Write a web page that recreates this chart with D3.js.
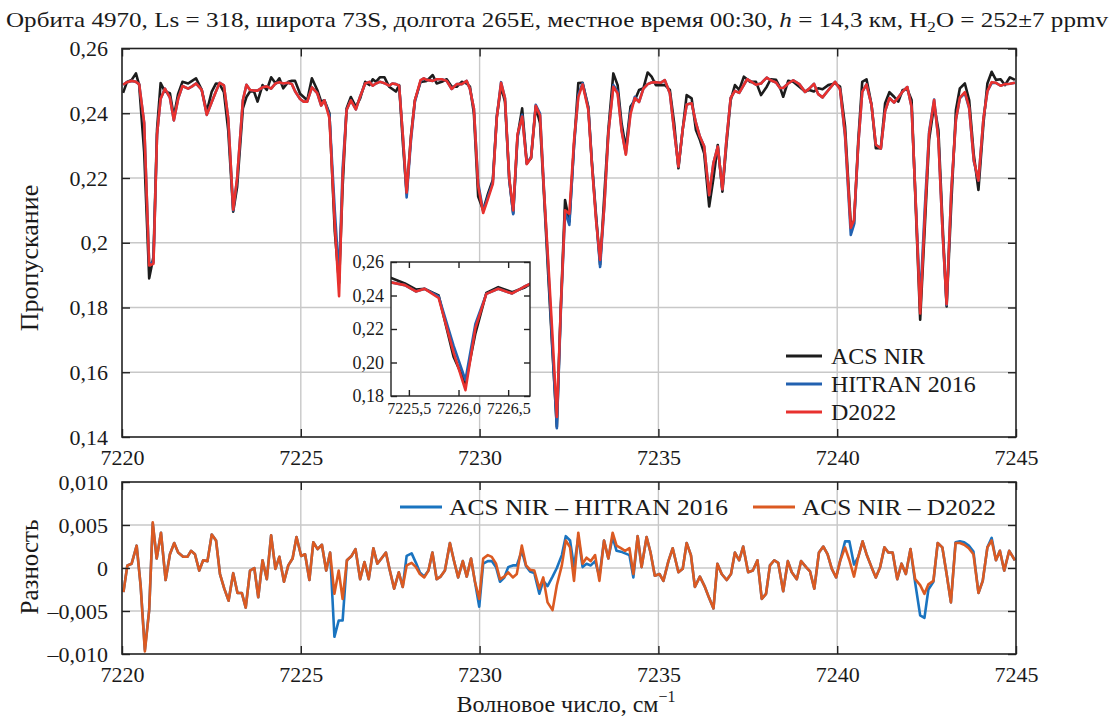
<html>
<script src='https://d3js.org/d3.v7.min.js'></script>
<style>
  body { margin: 0; background: white; }
  text { font-family: "Liberation Serif", "Times New Roman", serif; fill: #1a1a1a; }
  .grid line { stroke: #c8c8c8; stroke-width: 1.4; }
  .ax line { stroke: #222; stroke-width: 1.4; }
  .ax path { display: none; }
</style>
<body>
<div id="chart"></div>
<script>
// top panel: wavenumber (cm-1) and transmittance
const wnTop = [7220.03,7220.14,7220.27,7220.39,7220.48,7220.62,7220.76,7220.88,7220.98,7221.08,7221.20,7221.34,7221.45,7221.57,7221.69,7221.85,7221.96,7222.07,7222.23,7222.37,7222.51,7222.63,7222.73,7222.85,7222.97,7223.11,7223.22,7223.38,7223.48,7223.58,7223.69,7223.79,7223.93,7224.05,7224.17,7224.30,7224.40,7224.51,7224.65,7224.75,7224.84,7224.98,7225.08,7225.18,7225.31,7225.46,7225.57,7225.66,7225.80,7225.95,7226.07,7226.17,7226.28,7226.40,7226.54,7226.66,7226.80,7226.92,7227.01,7227.10,7227.21,7227.34,7227.47,7227.56,7227.66,7227.75,7227.86,7227.96,7228.08,7228.19,7228.35,7228.44,7228.52,7228.69,7228.80,7228.94,7229.08,7229.22,7229.36,7229.50,7229.64,7229.73,7229.84,7229.96,7230.10,7230.24,7230.37,7230.48,7230.60,7230.71,7230.83,7230.94,7231.06,7231.19,7231.32,7231.44,7231.57,7231.69,7231.80,7231.92,7232.04,7232.16,7232.27,7232.39,7232.51,7232.64,7232.76,7232.88,7233.04,7233.14,7233.26,7233.37,7233.49,7233.60,7233.74,7233.86,7233.97,7234.09,7234.22,7234.34,7234.46,7234.58,7234.70,7234.81,7234.93,7235.06,7235.18,7235.32,7235.44,7235.56,7235.68,7235.79,7235.93,7236.05,7236.16,7236.28,7236.42,7236.54,7236.66,7236.79,7236.90,7237.02,7237.14,7237.26,7237.39,7237.48,7237.56,7237.73,7237.87,7238.03,7238.14,7238.29,7238.40,7238.49,7238.63,7238.77,7238.94,7239.10,7239.22,7239.35,7239.47,7239.59,7239.75,7239.94,7240.08,7240.22,7240.38,7240.47,7240.59,7240.70,7240.82,7240.96,7241.08,7241.22,7241.34,7241.46,7241.59,7241.71,7241.83,7241.96,7242.08,7242.20,7242.32,7242.45,7242.57,7242.71,7242.83,7242.95,7243.06,7243.19,7243.32,7243.43,7243.57,7243.69,7243.82,7243.95,7244.09,7244.20,7244.32,7244.44,7244.57,7244.69,7244.83,7244.97];
const acs = [.2463,.2497,.2503,.2523,.2487,.2280,.1890,.1957,.2350,.2493,.2467,.2462,.2389,.2460,.2497,.2492,.2500,.2508,.2472,.2405,.2467,.2492,.2490,.2465,.2348,.2096,.2173,.2415,.2450,.2467,.2468,.2436,.2487,.2472,.2511,.2492,.2508,.2477,.2497,.2500,.2500,.2460,.2450,.2440,.2508,.2472,.2436,.2440,.2400,.2035,.1876,.2174,.2415,.2450,.2420,.2446,.2497,.2487,.2505,.2497,.2511,.2511,.2482,.2475,.2467,.2487,.2300,.2153,.2330,.2440,.2497,.2498,.2500,.2518,.2492,.2497,.2505,.2482,.2482,.2497,.2492,.2482,.2400,.2143,.2101,.2153,.2194,.2389,.2482,.2436,.2194,.2091,.2328,.2415,.2246,.2261,.2420,.2369,.2150,.1900,.1660,.1432,.1800,.2132,.2065,.2300,.2493,.2494,.2420,.2250,.2080,.1932,.2150,.2348,.2523,.2487,.2369,.2292,.2420,.2440,.2472,.2477,.2526,.2513,.2487,.2487,.2487,.2472,.2370,.2230,.2350,.2456,.2446,.2348,.2318,.2276,.2112,.2200,.2302,.2158,.2300,.2440,.2487,.2472,.2513,.2505,.2497,.2497,.2456,.2482,.2505,.2503,.2480,.2451,.2500,.2497,.2482,.2467,.2472,.2467,.2477,.2474,.2487,.2492,.2482,.2359,.2055,.2060,.2318,.2497,.2505,.2426,.2292,.2292,.2431,.2465,.2451,.2436,.2472,.2474,.2441,.2100,.1762,.2050,.2318,.2426,.2348,.2050,.1803,.2120,.2410,.2477,.2492,.2441,.2271,.2163,.2369,.2492,.2528,.2503,.2505,.2487,.2511,.2503];
const hitran = [.2488,.2496,.2500,.2497,.2490,.2370,.1935,.1940,.2335,.2445,.2476,.2448,.2378,.2445,.2484,.2476,.2483,.2492,.2472,.2395,.2435,.2468,.2494,.2486,.2385,.2100,.2198,.2440,.2488,.2472,.2470,.2470,.2480,.2483,.2476,.2493,.2496,.2492,.2494,.2490,.2468,.2444,.2436,.2436,.2480,.2462,.2424,.2440,.2395,.2100,.1895,.2230,.2410,.2440,.2412,.2452,.2492,.2497,.2485,.2492,.2497,.2493,.2485,.2492,.2490,.2485,.2322,.2140,.2315,.2435,.2500,.2508,.2503,.2500,.2505,.2505,.2500,.2475,.2490,.2490,.2500,.2475,.2415,.2185,.2097,.2145,.2187,.2388,.2496,.2447,.2193,.2088,.2325,.2395,.2244,.2265,.2426,.2399,.2165,.1921,.1670,.1427,.1785,.2095,.2055,.2299,.2457,.2493,.2415,.2247,.2072,.1925,.2118,.2337,.2487,.2467,.2350,.2275,.2405,.2451,.2435,.2476,.2490,.2495,.2496,.2494,.2502,.2462,.2347,.2235,.2351,.2427,.2431,.2370,.2328,.2298,.2147,.2247,.2297,.2165,.2314,.2447,.2469,.2463,.2488,.2505,.2500,.2488,.2492,.2510,.2502,.2495,.2478,.2478,.2492,.2502,.2490,.2466,.2476,.2491,.2459,.2449,.2471,.2497,.2474,.2328,.2024,.2056,.2305,.2466,.2489,.2425,.2303,.2291,.2407,.2447,.2433,.2449,.2467,.2481,.2419,.2117,.1817,.2108,.2343,.2442,.2319,.2026,.1808,.2160,.2380,.2446,.2462,.2415,.2252,.2192,.2384,.2468,.2493,.2494,.2485,.2490,.2491,.2494];
const d2022 = [.2488,.2496,.2500,.2497,.2490,.2370,.1930,.1935,.2335,.2445,.2476,.2448,.2378,.2445,.2484,.2476,.2483,.2492,.2472,.2395,.2435,.2468,.2494,.2486,.2385,.2102,.2200,.2440,.2488,.2472,.2470,.2470,.2480,.2483,.2476,.2493,.2496,.2492,.2494,.2490,.2468,.2444,.2436,.2436,.2480,.2462,.2424,.2440,.2385,.2060,.1835,.2205,.2410,.2440,.2412,.2452,.2492,.2497,.2485,.2492,.2497,.2493,.2485,.2492,.2490,.2485,.2322,.2155,.2325,.2440,.2502,.2508,.2503,.2500,.2505,.2505,.2500,.2475,.2490,.2490,.2500,.2475,.2415,.2175,.2092,.2138,.2182,.2385,.2494,.2446,.2199,.2100,.2335,.2390,.2243,.2263,.2423,.2393,.2161,.1940,.1709,.1462,.1797,.2100,.2090,.2315,.2450,.2489,.2410,.2242,.2065,.1947,.2118,.2337,.2482,.2461,.2346,.2272,.2397,.2447,.2435,.2476,.2490,.2495,.2496,.2494,.2502,.2462,.2347,.2235,.2351,.2427,.2431,.2370,.2328,.2298,.2147,.2247,.2297,.2165,.2314,.2447,.2469,.2463,.2488,.2505,.2500,.2488,.2492,.2510,.2502,.2495,.2478,.2478,.2492,.2502,.2490,.2466,.2476,.2491,.2459,.2449,.2471,.2497,.2474,.2335,.2046,.2070,.2305,.2466,.2489,.2425,.2303,.2291,.2407,.2447,.2433,.2449,.2467,.2481,.2419,.2113,.1782,.2080,.2337,.2441,.2319,.2026,.1810,.2160,.2381,.2448,.2465,.2418,.2255,.2192,.2384,.2468,.2496,.2494,.2485,.2490,.2491,.2494];

// bottom panel: residuals
const wnRes = [7220.04,7220.15,7220.27,7220.41,7220.52,7220.64,7220.76,7220.86,7220.97,7221.09,7221.22,7221.34,7221.46,7221.57,7221.71,7221.83,7221.93,7222.04,7222.16,7222.27,7222.39,7222.51,7222.63,7222.74,7222.86,7222.98,7223.11,7223.23,7223.35,7223.46,7223.58,7223.70,7223.81,7223.93,7224.05,7224.17,7224.29,7224.40,7224.53,7224.65,7224.77,7224.88,7225.01,7225.12,7225.24,7225.35,7225.47,7225.59,7225.71,7225.82,7225.94,7226.06,7226.17,7226.29,7226.42,7226.53,7226.66,7226.78,7226.90,7227.03,7227.14,7227.27,7227.38,7227.49,7227.61,7227.74,7227.85,7227.96,7228.10,7228.22,7228.33,7228.45,7228.57,7228.68,7228.80,7228.91,7229.03,7229.17,7229.28,7229.40,7229.53,7229.64,7229.76,7229.87,7229.99,7230.10,7230.23,7230.34,7230.46,7230.57,7230.69,7230.80,7230.93,7231.04,7231.18,7231.30,7231.41,7231.53,7231.67,7231.78,7231.90,7232.04,7232.16,7232.30,7232.41,7232.53,7232.64,7232.76,7232.88,7232.99,7233.11,7233.23,7233.35,7233.48,7233.60,7233.72,7233.83,7233.95,7234.07,7234.19,7234.30,7234.42,7234.53,7234.67,7234.78,7234.90,7235.03,7235.14,7235.28,7235.40,7235.56,7235.68,7235.79,7235.91,7236.02,7236.16,7236.30,7236.42,7236.54,7236.65,7236.77,7236.91,7237.03,7237.14,7237.26,7237.37,7237.51,7237.64,7237.77,7237.89,7238.01,7238.12,7238.24,7238.35,7238.49,7238.62,7238.73,7238.87,7238.99,7239.13,7239.24,7239.36,7239.49,7239.61,7239.73,7239.85,7239.97,7240.08,7240.22,7240.34,7240.47,7240.59,7240.71,7240.82,7240.96,7241.08,7241.20,7241.32,7241.43,7241.55,7241.68,7241.80,7241.92,7242.05,7242.18,7242.32,7242.44,7242.55,7242.69,7242.81,7242.94,7243.06,7243.18,7243.31,7243.43,7243.55,7243.68,7243.81,7243.95,7244.07,7244.20,7244.32,7244.44,7244.55,7244.67,7244.81,7244.97];
const resHitran = [-.0028,.0003,.0005,.0026,-.0020,-.0095,-.0049,.0052,.0011,.0041,-.0014,.0016,.0029,.0018,.0013,.0013,.0020,.0016,-.0003,.0009,.0008,.0039,.0032,-.0007,-.0024,-.0038,-.0006,-.0029,-.0029,-.0046,-.0003,.0000,-.0034,.0009,-.0013,.0038,-.0001,.0013,-.0016,.0003,.0011,.0036,.0014,.0016,-.0014,.0030,.0022,.0027,-.0003,.0018,-.0080,-.0061,-.0061,.0009,.0014,.0022,-.0013,.0007,-.0013,.0023,.0005,.0012,.0018,-.0003,-.0024,-.0005,-.0022,.0014,.0017,.0006,-.0005,-.0010,-.0003,.0018,-.0013,-.0010,-.0003,.0029,.0009,-.0011,.0008,-.0010,.0011,-.0016,-.0045,.0005,.0008,.0008,.0001,-.0016,-.0011,.0001,.0003,.0003,.0020,.0002,-.0004,-.0006,-.0030,-.0015,-.0021,-.0010,.0000,.0015,.0037,.0032,.0001,.0036,.0001,.0005,.0003,.0008,-.0010,.0032,.0011,.0036,.0020,.0019,.0017,.0015,-.0011,.0037,.0001,.0036,.0018,-.0009,-.0007,-.0015,.0008,.0023,-.0005,-.0001,.0029,.0015,-.0022,-.0010,-.0022,-.0035,-.0047,.0005,-.0007,-.0014,-.0007,.0018,.0009,.0025,-.0005,-.0003,.0009,-.0036,-.0030,.0003,.0009,.0006,-.0027,.0008,-.0005,-.0013,.0008,.0001,-.0004,-.0024,.0018,.0025,.0016,-.0001,-.0011,.0008,.0031,.0031,.0004,.0013,.0031,.0016,.0001,-.0011,.0001,.0024,.0018,.0018,-.0013,.0005,-.0007,.0022,-.0017,-.0055,-.0058,-.0025,-.0016,.0029,.0024,-.0007,-.0040,.0030,.0031,.0030,.0026,.0019,-.0029,-.0015,.0024,.0035,.0009,.0020,-.0003,.0020,.0009];
const resD2022 = [-.0028,.0003,.0005,.0026,-.0020,-.0097,-.0049,.0053,.0011,.0041,-.0014,.0016,.0029,.0018,.0013,.0013,.0020,.0016,-.0003,.0009,.0008,.0039,.0032,-.0007,-.0024,-.0038,-.0006,-.0029,-.0029,-.0046,-.0003,.0000,-.0034,.0009,-.0013,.0038,-.0001,.0013,-.0016,.0003,.0011,.0036,.0014,.0016,-.0014,.0030,.0022,.0027,-.0003,.0018,-.0030,-.0003,-.0036,.0009,.0014,.0022,-.0013,.0007,-.0013,.0023,.0005,.0012,.0018,-.0003,-.0024,-.0005,-.0022,.0003,.0006,.0001,-.0007,-.0011,-.0003,.0018,-.0013,-.0010,-.0003,.0029,.0009,-.0011,.0008,-.0010,.0011,-.0016,-.0036,.0011,.0015,.0013,.0005,-.0013,-.0010,-.0005,-.0011,-.0007,.0026,.0003,-.0002,-.0003,-.0024,-.0011,-.0040,-.0049,-.0020,.0003,.0032,.0024,-.0015,.0041,.0005,.0012,.0008,.0015,-.0015,.0032,.0011,.0041,.0026,.0023,.0020,.0023,-.0007,.0037,.0001,.0036,.0018,-.0009,-.0007,-.0015,.0008,.0023,-.0005,-.0001,.0029,.0015,-.0022,-.0010,-.0022,-.0035,-.0047,.0005,-.0007,-.0014,-.0007,.0018,.0009,.0025,-.0005,-.0003,.0009,-.0036,-.0030,.0003,.0009,.0006,-.0027,.0008,-.0005,-.0013,.0008,.0001,-.0004,-.0024,.0018,.0025,.0016,-.0001,-.0011,.0008,.0024,.0009,-.0010,.0013,.0031,.0016,.0001,-.0011,.0001,.0024,.0018,.0018,-.0013,.0005,-.0007,.0022,-.0013,-.0020,-.0030,-.0019,-.0015,.0029,.0024,-.0007,-.0040,.0029,.0029,.0027,.0023,.0016,-.0029,-.0015,.0024,.0032,.0009,.0020,-.0003,.0020,.0009];

const xTicks = [7220, 7225, 7230, 7235, 7240, 7245];
const yTopTicks = [0.14, 0.16, 0.18, 0.20, 0.22, 0.24, 0.26];
const yTopLabels = ["0,14", "0,16", "0,18", "0,2", "0,22", "0,24", "0,26"];
const yBotTicks = [-0.01, -0.005, 0, 0.005, 0.01];
const yBotLabels = ["–0,010", "–0,005", "0", "0,005", "0,010"];
const inXTicks = [7225.5, 7226.0, 7226.5];
const inXLabels = ["7225,5", "7226,0", "7226,5"];
const inYTicks = [0.18, 0.20, 0.22, 0.24, 0.26];
const inYLabels = ["0,18", "0,20", "0,22", "0,24", "0,26"];

const colors = { acs: "#1c1c1c", hitran: "#2261b0", d2022: "#e8312e", rH: "#1a74c0", rD: "#db5a22" };

const W = 1113, H = 717;
const svg = d3.select("#chart").append("svg").attr("width", W).attr("height", H);

const L = 122, R = 1016;
const x = d3.scaleLinear().domain([7220, 7245]).range([L, R]);
const yT = d3.scaleLinear().domain([0.14, 0.26]).range([437, 48.5]);
const yB = d3.scaleLinear().domain([-0.01, 0.01]).range([654, 482]);

function panel(y, yTicks, top, bottom, id) {
  const g = svg.append("g");
  const grid = g.append("g").attr("class", "grid");
  grid.selectAll(".gx").data(xTicks.slice(1, -1)).join("line")
    .attr("x1", d => x(d)).attr("x2", d => x(d)).attr("y1", top).attr("y2", bottom);
  grid.selectAll(".gy").data(yTicks.slice(1, -1)).join("line")
    .attr("x1", L).attr("x2", R).attr("y1", d => y(d)).attr("y2", d => y(d));
  g.append("defs").append("clipPath").attr("id", id)
    .append("rect").attr("x", L).attr("y", top).attr("width", R - L).attr("height", bottom - top);
  return g;
}

function frame(y, yTicks, yLabels, top, bottom) {
  const g = svg.append("g");
  g.append("g").attr("class", "ax").attr("transform", `translate(0,${bottom})`)
    .call(d3.axisBottom(x).tickValues(xTicks).tickSize(-8).tickPadding(12).tickFormat(d => d))
    .selectAll("text").style("font-size", "22px");
  g.append("g").attr("class", "ax").attr("transform", `translate(0,${top})`)
    .call(d3.axisTop(x).tickValues(xTicks).tickSize(-8).tickFormat(""));
  g.append("g").attr("class", "ax").attr("transform", `translate(${L},0)`)
    .call(d3.axisLeft(y).tickValues(yTicks).tickSize(-8).tickPadding(14).tickFormat((d, i) => yLabels[i]))
    .selectAll("text").style("font-size", "22px");
  g.append("g").attr("class", "ax").attr("transform", `translate(${R},0)`)
    .call(d3.axisRight(y).tickValues(yTicks).tickSize(-8).tickFormat(""));
  g.append("rect").attr("x", L).attr("y", top).attr("width", R - L).attr("height", bottom - top)
    .attr("fill", "none").attr("stroke", "#222").attr("stroke-width", 1.6);
}

// top panel
const gTop = panel(yT, yTopTicks, 48.5, 437, "clipTop");
const lineT = d3.line().x(d => x(d[0])).y(d => yT(d[1]));
const topSeries = [[acs, colors.acs], [hitran, colors.hitran], [d2022, colors.d2022]];
topSeries.forEach(([vals, c]) => {
  gTop.append("path").attr("clip-path", "url(#clipTop)")
    .attr("d", lineT(wnTop.map((w, i) => [w, vals[i]])))
    .attr("fill", "none").attr("stroke", c).attr("stroke-width", 2.6).attr("stroke-linejoin", "round");
});
frame(yT, yTopTicks, yTopLabels, 48.5, 437);

// bottom panel
const gBot = panel(yB, yBotTicks, 482, 654, "clipBot");
const lineB = d3.line().x(d => x(d[0])).y(d => yB(d[1]));
[[resHitran, colors.rH], [resD2022, colors.rD]].forEach(([vals, c]) => {
  gBot.append("path").attr("clip-path", "url(#clipBot)")
    .attr("d", lineB(wnRes.map((w, i) => [w, vals[i]])))
    .attr("fill", "none").attr("stroke", c).attr("stroke-width", 2.6).attr("stroke-linejoin", "round");
});
frame(yB, yBotTicks, yBotLabels, 482, 654);

// inset
const iL = 391, iR = 530, iT = 262, iB = 396;
const xi = d3.scaleLinear().domain([7225.32, 7226.72]).range([iL, iR]);
const yi = d3.scaleLinear().domain([0.18, 0.26]).range([iB, iT]);
const gIn = svg.append("g");
gIn.append("rect").attr("x", iL).attr("y", iT).attr("width", iR - iL).attr("height", iB - iT).attr("fill", "white");
gIn.append("defs").append("clipPath").attr("id", "clipIn")
  .append("rect").attr("x", iL).attr("y", iT).attr("width", iR - iL).attr("height", iB - iT);
const lineI = d3.line().x(d => xi(d[0])).y(d => yi(d[1]));
topSeries.forEach(([vals, c]) => {
  gIn.append("path").attr("clip-path", "url(#clipIn)")
    .attr("d", lineI(wnTop.map((w, i) => [w, vals[i]])))
    .attr("fill", "none").attr("stroke", c).attr("stroke-width", 2.6).attr("stroke-linejoin", "round");
});
gIn.append("g").attr("class", "ax").attr("transform", `translate(0,${iB})`)
  .call(d3.axisBottom(xi).tickValues(inXTicks).tickSize(-6).tickPadding(7).tickFormat((d, i) => inXLabels[i]))
  .selectAll("text").style("font-size", "16px");
gIn.append("g").attr("class", "ax").attr("transform", `translate(0,${iT})`)
  .call(d3.axisTop(xi).tickValues(inXTicks).tickSize(-6).tickFormat(""));
gIn.append("g").attr("class", "ax").attr("transform", `translate(${iL},0)`)
  .call(d3.axisLeft(yi).tickValues(inYTicks).tickSize(-6).tickPadding(7).tickFormat((d, i) => inYLabels[i]))
  .selectAll("text").style("font-size", "18px");
gIn.append("g").attr("class", "ax").attr("transform", `translate(${iR},0)`)
  .call(d3.axisRight(yi).tickValues(inYTicks).tickSize(-6).tickFormat(""));
gIn.append("rect").attr("x", iL).attr("y", iT).attr("width", iR - iL).attr("height", iB - iT)
  .attr("fill", "none").attr("stroke", "#222").attr("stroke-width", 1.4);

// legends
const legTop = [["ACS NIR", colors.acs], ["HITRAN 2016", colors.hitran], ["D2022", colors.d2022]];
legTop.forEach(([t, c], i) => {
  const yy = 356 + i * 28;
  svg.append("line").attr("x1", 786).attr("x2", 822).attr("y1", yy).attr("y2", yy)
    .attr("stroke", c).attr("stroke-width", 3);
  svg.append("text").attr("x", 831).attr("y", yy + 8).style("font-size", "24px").text(t);
});
const legBot = [["ACS NIR – HITRAN 2016", colors.rH, 400, 279], ["ACS NIR – D2022", colors.rD, 753, 194]];
legBot.forEach(([t, c, lx, len]) => {
  svg.append("line").attr("x1", lx).attr("x2", lx + 42).attr("y1", 507).attr("y2", 507)
    .attr("stroke", c).attr("stroke-width", 3);
  svg.append("text").attr("x", lx + 49).attr("y", 515).style("font-size", "24px")
    .attr("textLength", len).attr("lengthAdjust", "spacingAndGlyphs").text(t);
});

// titles and axis labels
const title = svg.append("text").attr("x", 6).attr("y", 27).style("font-size", "22px")
  .attr("textLength", 1102).attr("lengthAdjust", "spacingAndGlyphs");
title.append("tspan").text("Орбита 4970, Ls = 318, широта 73S, долгота 265E, местное время 00:30, ");
title.append("tspan").attr("font-style", "italic").text("h");
title.append("tspan").text(" = 14,3 км, H");
title.append("tspan").attr("dy", 5).style("font-size", "15px").text("2");
title.append("tspan").attr("dy", -5).text("O = 252±7 ppmv");

svg.append("text").attr("transform", "translate(38,258) rotate(-90)").attr("text-anchor", "middle")
  .style("font-size", "26px").text("Пропускание");
svg.append("text").attr("transform", "translate(38,567) rotate(-90)").attr("text-anchor", "middle")
  .style("font-size", "25px").text("Разность");
const xl = svg.append("text").attr("x", 566).attr("y", 712).attr("text-anchor", "middle").style("font-size", "24px");
xl.append("tspan").text("Волновое число, см");
xl.append("tspan").attr("dy", -10).style("font-size", "16px").text("−1");
</script>
</body>
</html>
